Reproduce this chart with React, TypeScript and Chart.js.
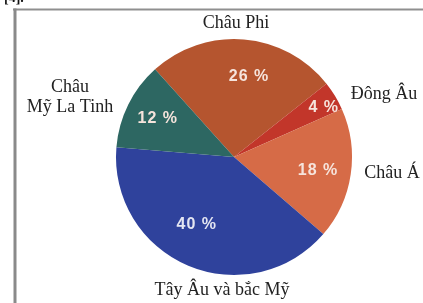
import React, { useEffect, useRef } from "react";
import { Chart, registerables } from "chart.js";

Chart.register(...registerables);

const categories = ["Châu Phi", "Đông Âu", "Châu Á", "Tây Âu và bắc Mỹ", "Châu Mỹ La Tinh"];
const shares = [26, 4, 18, 40, 12];
const outsideLabelLines = [["Châu Phi"], ["Đông Âu"], ["Châu Á"], ["Tây Âu và bắc Mỹ"], ["Châu", "Mỹ La Tinh"]];
const sliceColors = ["#b5552f", "#c2362a", "#d66b47", "#2f429c", "#2d6762"];

// label placement (style): offsets from pie centre, in pixels
const outsideOffsets = [
  [2, -134],
  [150, -63],
  [158, 16],
  [-12, 133],
  [-164, -60],
];
const insideRadiusFactor = [0.72, 0.86, 0.72, 0.66, 0.74];
const insideNudge = [
  [8, 4],
  [3, 3],
  [0, 1],
  [-7, -4],
  [2, 0],
];

const labelPlugin = {
  id: "pieLabels",
  afterDatasetsDraw(chart: any) {
    const ctx = chart.ctx;
    const meta = chart.getDatasetMeta(0);
    const arcs = meta.data;
    if (!arcs.length) return;
    const cx = arcs[0].x;
    const cy = arcs[0].y;
    ctx.save();
    ctx.textAlign = "center";
    ctx.textBaseline = "middle";
    // inside percentage labels
    ctx.font = "bold 16px 'Liberation Sans', Arial, sans-serif";
    try { (ctx as any).letterSpacing = "1px"; } catch (e) {}
    arcs.forEach((arc: any, i: number) => {
      const mid = (arc.startAngle + arc.endAngle) / 2;
      const r = arc.outerRadius * insideRadiusFactor[i];
      const x = cx + Math.cos(mid) * r + insideNudge[i][0];
      const y = cy + Math.sin(mid) * r + insideNudge[i][1];
      ctx.fillStyle = i === 3 ? "#e4e6f2" : "#f6e4dc";
      ctx.fillText(shares[i] + " %", x, y);
    });
    try { (ctx as any).letterSpacing = "0px"; } catch (e) {}
    // outside category labels
    ctx.font = "18px 'Liberation Serif', 'Times New Roman', serif";
    ctx.fillStyle = "#222222";
    outsideLabelLines.forEach((lines, i) => {
      const [dx, dy] = outsideOffsets[i];
      const lh = 20;
      const y0 = cy + dy - ((lines.length - 1) * lh) / 2;
      lines.forEach((t, j) => ctx.fillText(t, cx + dx, y0 + j * lh));
    });
    ctx.restore();
  },
};

const framePlugin = {
  id: "frame",
  beforeDraw(chart: any) {
    const ctx = chart.ctx;
    ctx.save();
    ctx.fillStyle = "#ffffff";
    ctx.fillRect(0, 0, chart.width, chart.height);
    ctx.strokeStyle = "#8f8f8f";
    ctx.lineWidth = 2;
    ctx.beginPath();
    ctx.moveTo(13, 9.5);
    ctx.lineTo(chart.width, 9.5);
    ctx.stroke();
    ctx.lineWidth = 3;
    ctx.strokeStyle = "#8a8a8a";
    ctx.beginPath();
    ctx.moveTo(15, 8.5);
    ctx.lineTo(15, chart.height);
    ctx.stroke();
    ctx.fillStyle = "#111";
    ctx.font = "bold 14px 'Liberation Serif', serif";
    ctx.textAlign = "left";
    ctx.textBaseline = "alphabetic";
    ctx.fillText("[4].", 4, 2);
    ctx.restore();
  },
};

export default function App() {
  const ref = useRef<HTMLCanvasElement | null>(null);
  useEffect(() => {
    if (!ref.current) return;
    const chart = new Chart(ref.current, {
      type: "pie",
      data: {
        labels: categories,
        datasets: [
          {
            data: shares,
            backgroundColor: sliceColors,
            borderWidth: 0,
          },
        ],
      },
      options: {
        animation: false,
        responsive: false,
        rotation: -42,
        layout: { padding: { top: 39, bottom: 28, left: 116, right: 71 } },
        plugins: {
          legend: { display: false },
          tooltip: { enabled: false },
        },
      },
      plugins: [framePlugin, labelPlugin],
    });
    return () => chart.destroy();
  }, []);
  return (
    <div style={{ position: "fixed", left: 0, top: 0, width: 423, height: 303 }}>
      <canvas ref={ref} width={423} height={303} style={{ width: 423, height: 303 }} />
    </div>
  );
}
